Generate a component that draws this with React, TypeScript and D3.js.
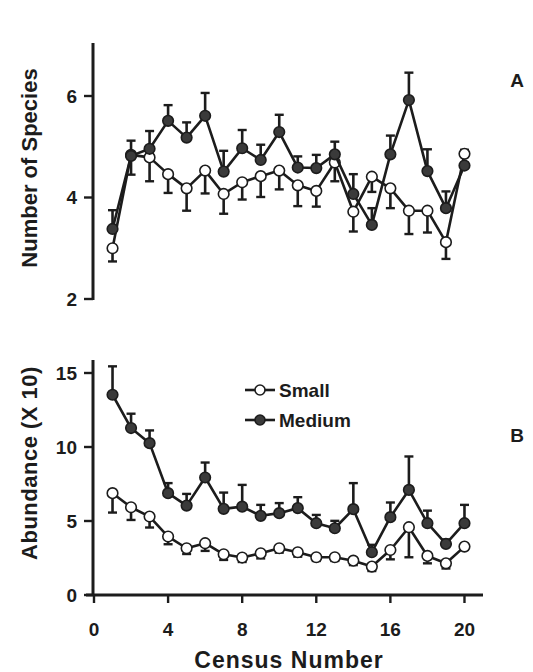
import React from 'react';
import * as d3 from 'd3';

// census numbers 1..20
const census = [1, 2, 3, 4, 5, 6, 7, 8, 9, 10, 11, 12, 13, 14, 15, 16, 17, 18, 19, 20];

// Panel A: number of species (signed error: negative = drawn below the point)
const speciesSmall = [3.0, 4.84, 4.79, 4.46, 4.18, 4.53, 4.07, 4.3, 4.42, 4.53, 4.24, 4.13, 4.69, 3.72, 4.41, 4.18, 3.74, 3.74, 3.12, 4.86];
const speciesSmallErr = [-0.26, -0.39, -0.47, -0.37, -0.44, -0.45, -0.39, -0.34, -0.41, -0.37, -0.41, -0.31, -0.37, -0.39, -0.3, -0.39, -0.46, -0.43, -0.33, 0.08];
const speciesMedium = [3.38, 4.82, 4.96, 5.51, 5.18, 5.61, 4.51, 4.97, 4.74, 5.29, 4.59, 4.58, 4.85, 4.07, 3.46, 4.85, 5.92, 4.52, 3.79, 4.63];
const speciesMediumErr = [0.37, 0.3, 0.35, 0.31, 0.3, 0.45, 0.41, 0.36, 0.3, 0.34, 0.22, 0.26, 0.25, 0.39, 0.33, 0.37, 0.54, 0.43, 0.33, 0.05];

// Panel B: abundance (x 10)
const abundSmall = [6.88, 5.93, 5.3, 3.95, 3.16, 3.5, 2.75, 2.53, 2.82, 3.16, 2.89, 2.55, 2.55, 2.32, 1.92, 3.04, 4.58, 2.64, 2.14, 3.27];
const abundSmallErr = [-1.31, -0.86, -0.74, -0.52, -0.39, -0.52, -0.38, -0.3, -0.35, -0.3, -0.3, -0.25, -0.25, -0.3, -0.3, -0.63, -2.03, -0.5, -0.35, -0.2];
const abundMedium = [13.53, 11.28, 10.26, 6.88, 6.04, 7.94, 5.82, 5.97, 5.35, 5.53, 5.87, 4.85, 4.51, 5.8, 2.89, 5.26, 7.1, 4.85, 3.45, 4.85];
const abundMediumErr = [1.92, 0.97, 0.86, 0.68, 0.79, 1.01, 1.1, 1.47, 0.74, 0.68, 0.74, 0.56, 0.5, 1.76, 0.5, 0.99, 2.26, 0.85, 0.3, 1.24];

const xTicks = [0, 4, 8, 12, 16, 20];
const speciesTicks = [2, 4, 6];
const abundTicks = [0, 5, 10, 15];

const INK = '#1c1c1c';
const DARK = '#3a3a3a';
const FONT = "'Liberation Sans', Arial, sans-serif";

const x = d3.scaleLinear().domain([0, 21]).range([94, 483]);
const yA = d3.scaleLinear().domain([2, 6]).range([299, 96]);
const yB = d3.scaleLinear().domain([0, 15]).range([595, 373]);

type Scale = d3.ScaleLinear<number, number>;

function Series({ values, errs, y, filled }: { values: number[]; errs: number[]; y: Scale; filled: boolean }) {
  const line = d3.line<number>().x((_, i) => x(census[i])).y(d => y(d));
  return (
    <g>
      <path d={line(values) || ''} fill="none" stroke={INK} strokeWidth={2.6} strokeLinejoin="round" />
      {values.map((v, i) => {
        const cx = x(census[i]);
        const y0 = y(v);
        const y1 = y(v + errs[i]);
        return (
          <g key={'e' + i}>
            <line x1={cx} x2={cx} y1={y0} y2={y1} stroke={INK} strokeWidth={2.6} />
            <line x1={cx - 4.5} x2={cx + 4.5} y1={y1} y2={y1} stroke={INK} strokeWidth={2.4} />
          </g>
        );
      })}
      {values.map((v, i) => (
        <circle key={'c' + i} cx={x(census[i])} cy={y(v)} r={5.3}
          fill={filled ? DARK : '#fff'} stroke={INK} strokeWidth={1.6} />
      ))}
    </g>
  );
}

function YAxis({ y, ticks, top, bottom }: { y: Scale; ticks: number[]; top: number; bottom: number }) {
  const ax = 93;
  return (
    <g>
      <line x1={ax} x2={ax} y1={top} y2={bottom} stroke={INK} strokeWidth={3} />
      {ticks.map(t => (
        <g key={t}>
          <line x1={ax - 9} x2={ax} y1={y(t)} y2={y(t)} stroke={INK} strokeWidth={2.4} />
          <text x={77} y={y(t)} dy="0.35em" textAnchor="end" fontSize={19} fontWeight="bold" fill={INK}>{t}</text>
        </g>
      ))}
    </g>
  );
}

export default function App() {
  return (
    <svg width={533} height={672} style={{ position: 'absolute', left: 0, top: 0, background: '#fff' }} fontFamily={FONT}>
      <rect width={533} height={672} fill="#fff" />

      {/* Panel A */}
      <YAxis y={yA} ticks={speciesTicks} top={43} bottom={300} />
      <text transform="translate(37,168) rotate(-90)" textAnchor="middle" fontSize={22} fontWeight="bold" fill={INK}>Number of Species</text>
      <Series values={speciesSmall} errs={speciesSmallErr} y={yA} filled={false} />
      <Series values={speciesMedium} errs={speciesMediumErr} y={yA} filled={true} />
      <text x={517} y={87} textAnchor="middle" fontSize={19} fontWeight="bold" fill={INK}>A</text>

      {/* Panel B */}
      <YAxis y={yB} ticks={abundTicks} top={360} bottom={596} />
      <line x1={86} x2={483} y1={595} y2={595} stroke={INK} strokeWidth={3} />
      {xTicks.map(t => (
        <g key={t}>
          <line x1={x(t)} x2={x(t)} y1={595} y2={603} stroke={INK} strokeWidth={2.4} />
          <text x={x(t)} y={636} textAnchor="middle" fontSize={19} fontWeight="bold" fill={INK}>{t}</text>
        </g>
      ))}
      <text x={289} y={668} textAnchor="middle" fontSize={23} fontWeight="bold" letterSpacing={1} fill={INK}>Census Number</text>
      <text transform="translate(37,463) rotate(-90)" textAnchor="middle" fontSize={22} fontWeight="bold" letterSpacing={0.5} fill={INK}>Abundance (X 10)</text>
      <Series values={abundSmall} errs={abundSmallErr} y={yB} filled={false} />
      <Series values={abundMedium} errs={abundMediumErr} y={yB} filled={true} />
      <text x={517} y={442} textAnchor="middle" fontSize={19} fontWeight="bold" fill={INK}>B</text>

      {/* Legend */}
      {[{ label: 'Small', filled: false, yy: 390 }, { label: 'Medium', filled: true, yy: 420 }].map(d => (
        <g key={d.label}>
          <line x1={245} x2={275} y1={d.yy} y2={d.yy} stroke={INK} strokeWidth={2.6} />
          <circle cx={260} cy={d.yy} r={5} fill={d.filled ? DARK : '#fff'} stroke={INK} strokeWidth={1.6} />
          <text x={279} y={d.yy} dy="0.36em" fontSize={19} fontWeight="bold" fill={INK}>{d.label}</text>
        </g>
      ))}
    </svg>
  );
}
